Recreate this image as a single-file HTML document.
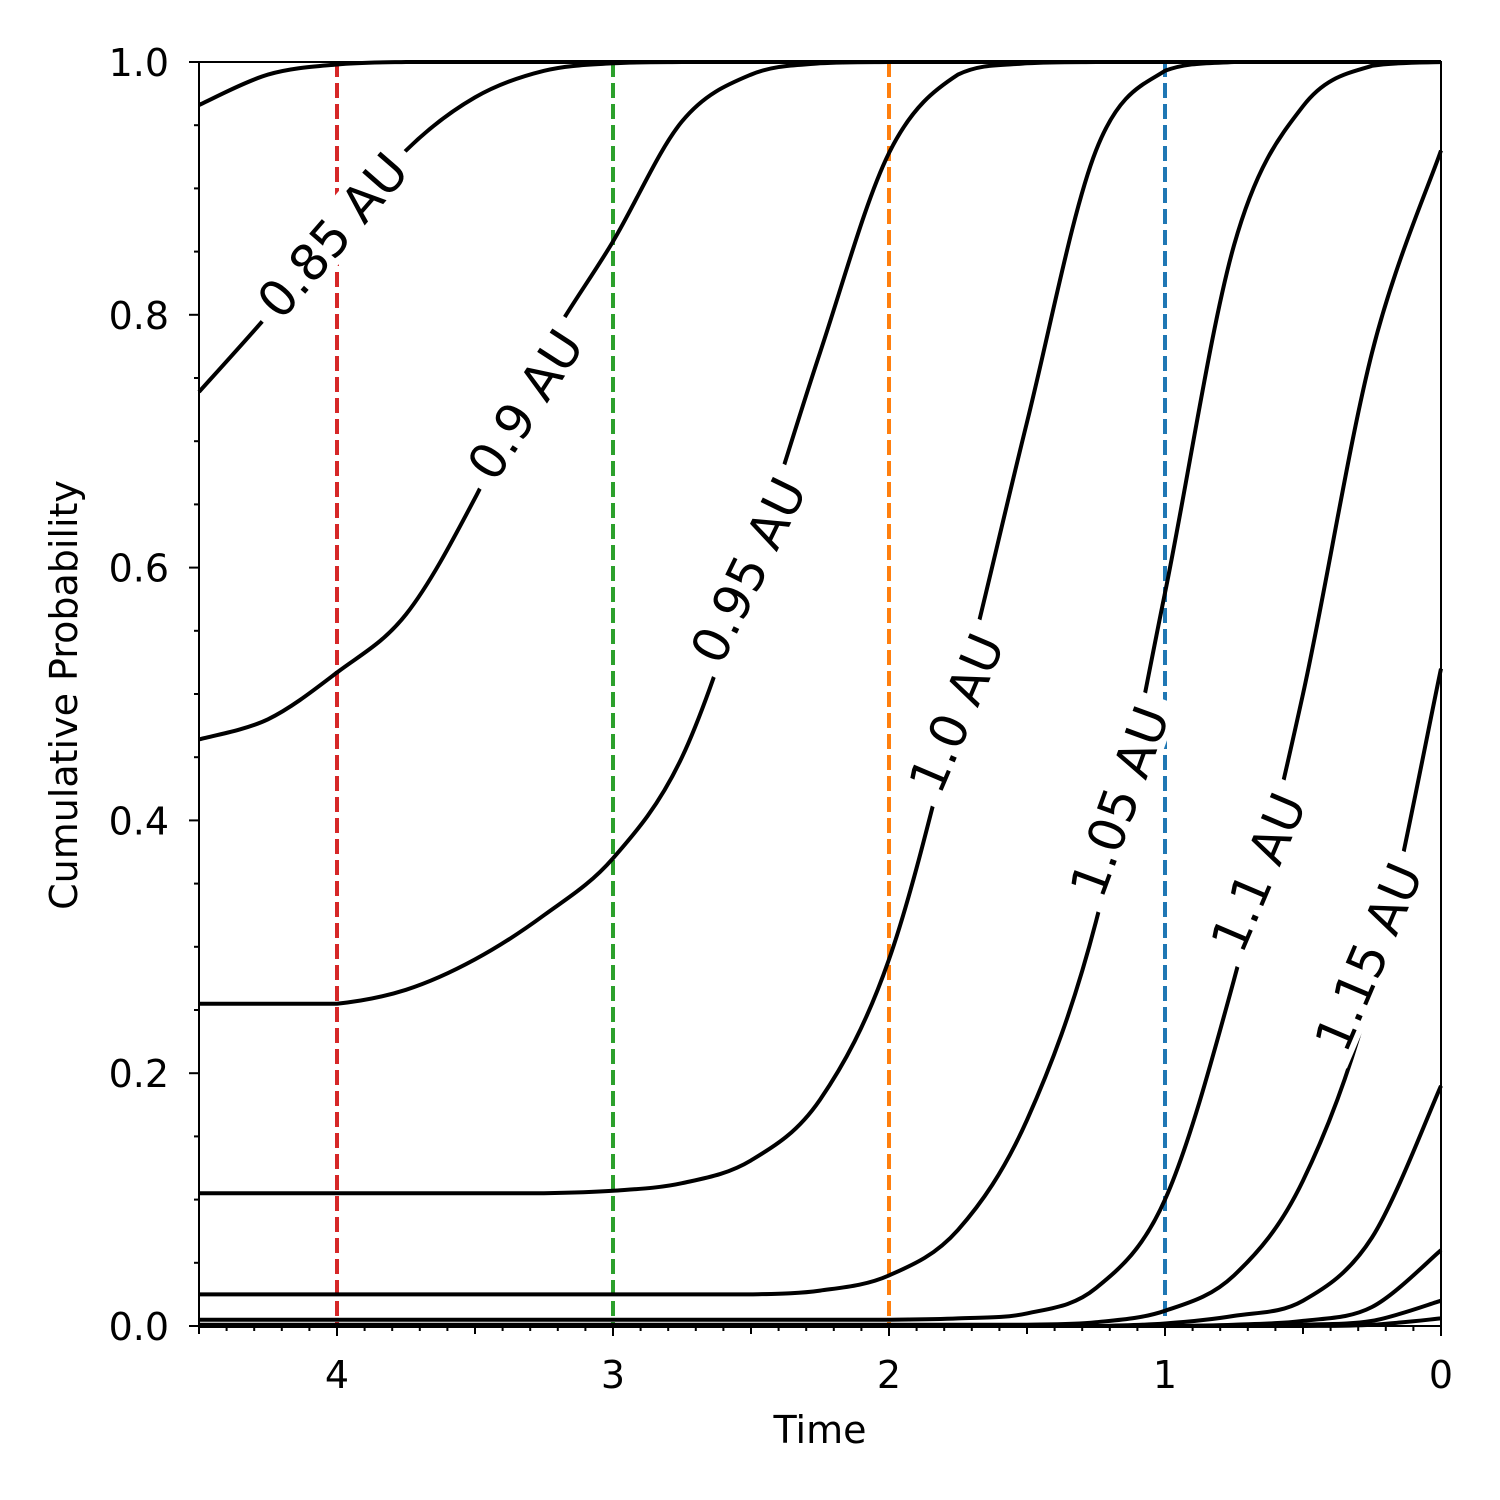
<!DOCTYPE html>
<html><head><meta charset="utf-8"><style>
html,body{margin:0;padding:0;background:#fff;}
svg{display:block;font-family:"DejaVu Sans","Liberation Sans",sans-serif;}
</style></head><body>
<svg id="chart" width="1500" height="1500" viewBox="0 0 1500 1500">
<rect x="0" y="0" width="1500" height="1500" fill="#fff"/>
<g id="vlines"></g><g id="curves"></g><g id="labels"></g><g id="axes"></g>
<text x="820" y="1443" font-size="38" text-anchor="middle">Time</text>
<text transform="translate(77,695) rotate(-90)" font-size="38" text-anchor="middle">Cumulative Probability</text>
</svg>
<script>
const times = [4.5,4.25,4.0,3.75,3.5,3.25,3.0,2.75,2.5,2.25,2.0,1.75,1.5,1.25,1.0,0.75,0.5,0.25,0];
const curve08  = [0.966,0.99,0.998,1,1,1,1,1,1,1,1,1,1,1,1,1,1,1,1];
const curve085 = [0.739,0.80,0.865,0.93,0.972,0.993,0.999,1,1,1,1,1,1,1,1,1,1,1,1];
const curve09  = [0.464,0.48,0.517,0.563,0.655,0.77,0.858,0.953,0.99,0.999,1,1,1,1,1,1,1,1,1];
const curve095 = [0.255,0.255,0.255,0.266,0.29,0.325,0.37,0.45,0.60,0.77,0.928,0.99,0.999,1,1,1,1,1,1];
const curve100 = [0.105,0.105,0.105,0.105,0.105,0.105,0.107,0.113,0.131,0.179,0.29,0.49,0.715,0.93,0.993,1,1,1,1];
const curve105 = [0.025,0.025,0.025,0.025,0.025,0.025,0.025,0.025,0.025,0.028,0.04,0.076,0.163,0.32,0.58,0.855,0.965,0.997,1];
const curve110 = [0.005,0.005,0.005,0.005,0.005,0.005,0.005,0.005,0.005,0.005,0.005,0.006,0.01,0.03,0.10,0.274,0.50,0.77,0.93];
const curve115 = [0.001,0.001,0.001,0.001,0.001,0.001,0.001,0.001,0.001,0.001,0.001,0.001,0.001,0.003,0.012,0.04,0.115,0.266,0.52];
const curve120 = [0,0,0,0,0,0,0,0,0,0,0,0,0,0,0.002,0.008,0.02,0.07,0.19];
const curve125 = [0,0,0,0,0,0,0,0,0,0,0,0,0,0,0,0.001,0.004,0.015,0.06];
const curve130 = [0,0,0,0,0,0,0,0,0,0,0,0,0,0,0,0,0.001,0.004,0.02];
const curve135 = [0,0,0,0,0,0,0,0,0,0,0,0,0,0,0,0,0,0.001,0.006];
const curves = [curve08,curve085,curve09,curve095,curve100,curve105,curve110,curve115,curve120,curve125,curve130,curve135];
const curveNames = ['0.8','0.85','0.9','0.95','1.0','1.05','1.1','1.15','1.2','1.25','1.3','1.35'];
const markerTimes = [4,3,2,1];
const markerColors = ['#d62728','#2ca02c','#ff7f0e','#1f77b4'];
const labelTexts = ['0.85 AU','0.9 AU','0.95 AU','1.0 AU','1.05 AU','1.1 AU','1.15 AU'];
const labelTimes = [4.017,3.319,2.511,1.757,1.166,0.663,0.264];
const labelProbs = [0.863,0.729,0.598,0.485,0.415,0.359,0.292];
const labelAngles = [-49,-57,-64,-67,-70,-67,-67];
const yTicks = [0,0.2,0.4,0.6,0.8,1.0];
const yTickLabels = ['0.0','0.2','0.4','0.6','0.8','1.0'];
const xTicks = [4,3,2,1,0];
const xTickLabels = ['4','3','2','1','0'];

const X0=199,X1=1441,Y0=1326,Y1=62;
const xs = t => X1 - (X1-X0)*t/4.5;
const ys = p => Y0 - (Y0-Y1)*p;
const NS='http://www.w3.org/2000/svg';
function mk(tag, attrs, parent){const e=document.createElementNS(NS,tag);for(const k in attrs)e.setAttribute(k,attrs[k]);parent.appendChild(e);return e;}

const vg=document.getElementById('vlines');
markerTimes.forEach((t,i)=>{
  const l=mk('line',{x1:xs(t),x2:xs(t),y1:Y1,y2:Y0,stroke:markerColors[i],'stroke-width':4,'stroke-dasharray':'15,6'},vg);
  
  
});

function smoothPath(pts){
  let d='M'+pts[0][0].toFixed(1)+','+pts[0][1].toFixed(1);
  for(let i=0;i<pts.length-1;i++){
    const p0=pts[Math.max(0,i-1)],p1=pts[i],p2=pts[i+1],p3=pts[Math.min(pts.length-1,i+2)];
    let c1y=p1[1]+(p2[1]-p0[1])/6, c2y=p2[1]-(p3[1]-p1[1])/6;
    const lo=Math.min(p1[1],p2[1]),hi=Math.max(p1[1],p2[1]);
    c1y=Math.min(hi,Math.max(lo,c1y)); c2y=Math.min(hi,Math.max(lo,c2y));
    d+=' C'+(p1[0]+(p2[0]-p0[0])/6).toFixed(1)+','+c1y.toFixed(1)+' '+(p2[0]-(p3[0]-p1[0])/6).toFixed(1)+','+c2y.toFixed(1)+' '+p2[0].toFixed(1)+','+p2[1].toFixed(1);
  }
  return d;
}
const cg=document.getElementById('curves');
curves.forEach((c,i)=>{
  const pts=times.map((t,j)=>[xs(t),ys(c[j])]);
  const p=mk('path',{d:smoothPath(pts),fill:'none',stroke:'#000','stroke-width':4,'stroke-linejoin':'round'},cg);
  
  
});

const lg=document.getElementById('labels');
labelTexts.forEach((s,i)=>{
  const g=mk('g',{transform:'translate('+xs(labelTimes[i])+','+ys(labelProbs[i])+') rotate('+labelAngles[i]+')'},lg);
  
  
  const r=mk('rect',{x:-80,y:-24,width:160,height:48,fill:'#fff'},g);
  const t=mk('text',{x:0,y:18,'font-size':50,'text-anchor':'middle',fill:'#000'},g);
  t.textContent=s;
  const w=t.getComputedTextLength();
  r.setAttribute('x',-w/2-12);
  r.setAttribute('width',w+24);
});

const ag=document.getElementById('axes');
const frame=mk('rect',{x:X0,y:Y1,width:X1-X0,height:Y0-Y1,fill:'none',stroke:'#000','stroke-width':2},ag);


for(let k=0;k<=20;k++){
  const y=ys(k*0.05),len=(k%4===0)?10:5;
  mk('line',{x1:X0-len,x2:X0,y1:y,y2:y,stroke:'#000','stroke-width':2},ag);
}
yTicks.forEach((v,i)=>{
  const t=mk('text',{x:X0-30,y:ys(v)+14,'font-size':38,'text-anchor':'end'},ag);
  
  
  t.textContent=yTickLabels[i];
});
for(let k=0;k<=45;k++){
  const x=xs(k*0.1),len=(k%10===0)?10:(k%5===0?8:5);
  mk('line',{x1:x,x2:x,y1:Y0,y2:Y0+len,stroke:'#000','stroke-width':2},ag);
}
xTicks.forEach((v,i)=>{
  const t=mk('text',{x:xs(v),y:Y0+62,'font-size':38,'text-anchor':'middle'},ag);
  
  
  t.textContent=xTickLabels[i];
});
</script>
</body></html>
